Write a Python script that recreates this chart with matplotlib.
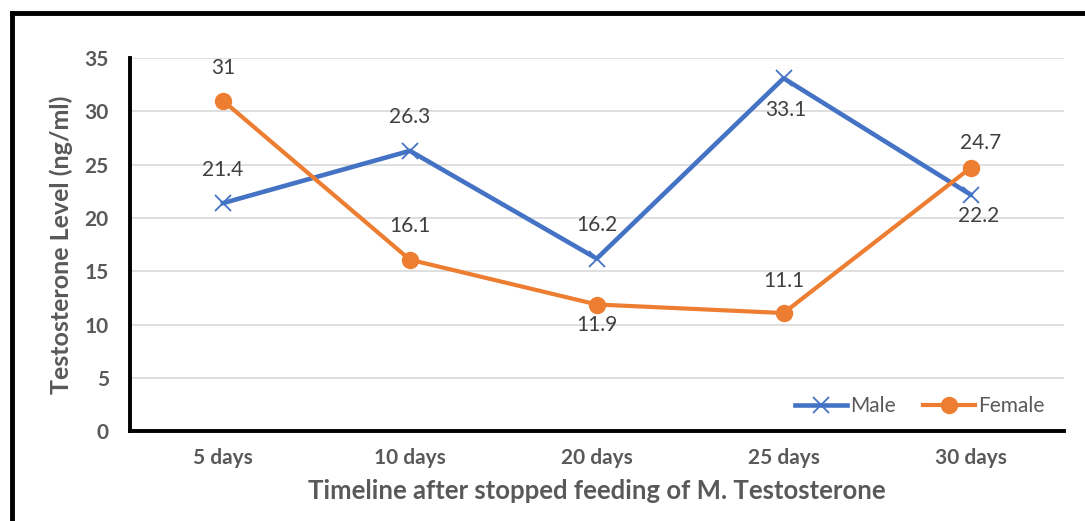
import numpy as np
import matplotlib.pyplot as plt
from matplotlib.lines import Line2D

plt.rcParams['font.family'] = ['Lato', 'DejaVu Sans']

days = ['5 days', '10 days', '20 days', '25 days', '30 days']
male = [21.4, 26.3, 16.2, 33.1, 22.2]
female = [31, 16.1, 11.9, 11.1, 24.7]
# label offsets in pixels (dx, dy)
male_off = [(0, 33), (0, 34), (0, 34), (2, -32), (8, -21)]
female_off = [(0, 33), (0, 34), (0, -20), (0, 32), (10, 25)]

blue = '#4472C4'
orange = '#ED7D31'
grey = '#595959'

fig = plt.figure(figsize=(10.85, 5.21), dpi=100)
ax = fig.add_axes([0.1194, 0.1718, 0.8612, 0.7169])

x = np.arange(len(days))
ax.plot(x, male, color=blue, lw=3.3, marker='x', ms=12, mew=1.3, label='Male', zorder=3)
ax.plot(x, female, color=orange, lw=3.0, marker='o', ms=11.5, label='Female', zorder=3)

for i in range(len(days)):
    ax.annotate(f'{male[i]:g}', (x[i], male[i]), xytext=male_off[i], textcoords='offset pixels',
                ha='center', va='center', fontsize=15, color='#404040')
    ax.annotate(f'{female[i]:g}', (x[i], female[i]), xytext=female_off[i], textcoords='offset pixels',
                ha='center', va='center', fontsize=15, color='#404040')

ax.set_xlim(-0.5, 4.5)
ax.set_ylim(0, 35)
ax.set_yticks(np.arange(0, 36, 5))
ax.set_xticks(x)
ax.set_xticklabels(days)
ax.grid(axis='y', color='#D9D9D9', lw=1.2)
ax.set_axisbelow(True)
for s in ['top', 'right']:
    ax.spines[s].set_visible(False)
for s in ['left', 'bottom']:
    ax.spines[s].set_linewidth(2.8)
    ax.spines[s].set_color('black')
ax.tick_params(length=0)
ax.tick_params(axis='y', pad=15)
ax.tick_params(axis='x', pad=12)
for lab in ax.get_xticklabels() + ax.get_yticklabels():
    lab.set_fontsize(15)
    lab.set_fontweight('bold')
    lab.set_color(grey)

ax.set_xlabel('Timeline after stopped feeding of M. Testosterone', fontsize=18.5,
              fontweight='bold', color=grey, labelpad=8)
ax.set_ylabel('Testosterone Level (ng/ml)', fontsize=18, fontweight='bold', color=grey, labelpad=8)

leg = ax.legend(loc='center', bbox_to_anchor=(0.846, 0.068), ncol=2, frameon=False,
                fontsize=15, handlelength=2.5, handletextpad=0.15, columnspacing=1.3)
for t in leg.get_texts():
    t.set_color(grey)

# outer frame (cropped box)
fig.add_artist(Line2D([0.0115, 0.0115], [0, 0.976], color='black', lw=3.5,
                      transform=fig.transFigure, solid_capstyle='projecting'))
fig.add_artist(Line2D([0.0115, 1.0], [0.976, 0.976], color='black', lw=3.5,
                      transform=fig.transFigure, solid_capstyle='projecting'))

fig.savefig('out.png', dpi=100)
